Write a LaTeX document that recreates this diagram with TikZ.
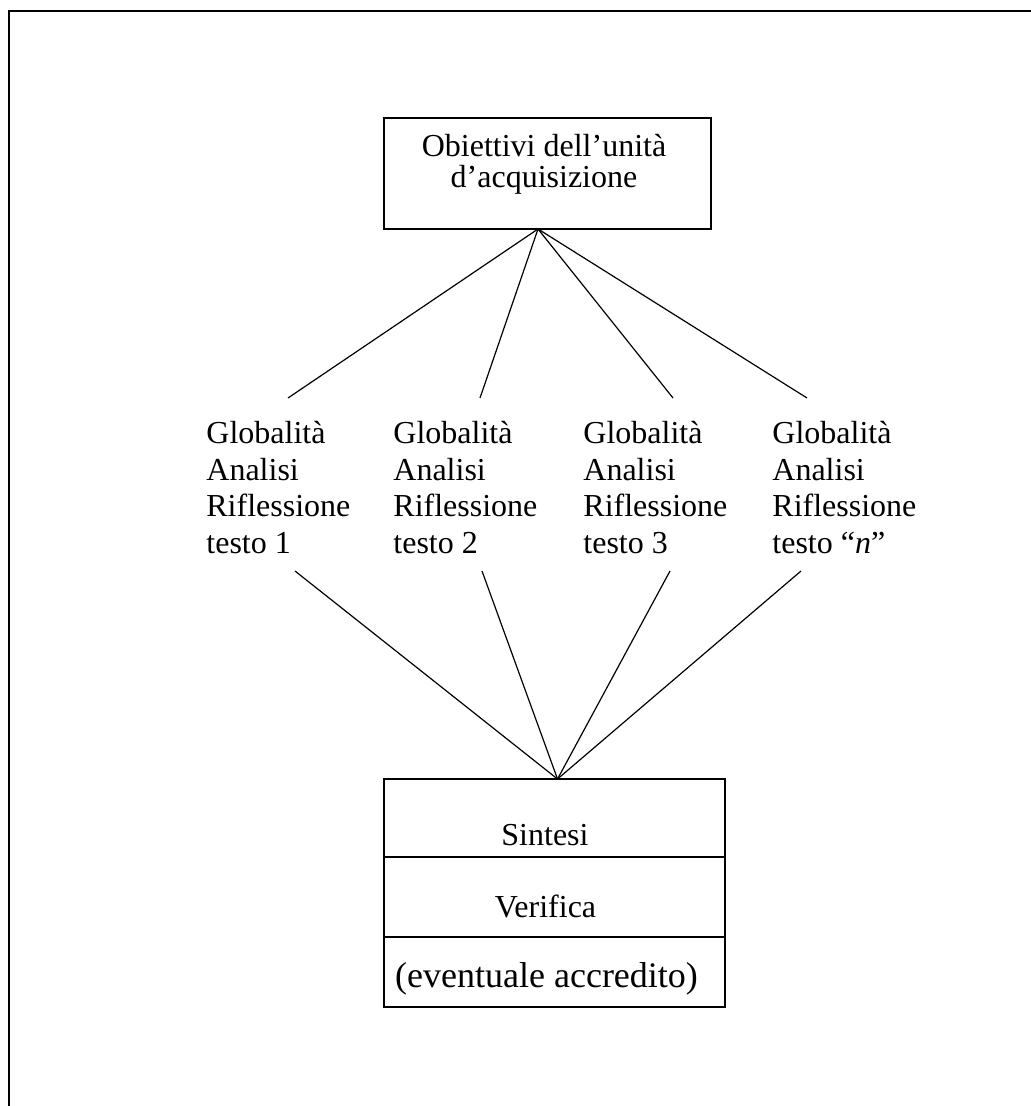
\documentclass[tikz,border=0pt]{standalone}
\usepackage{fontspec}
\setmainfont{Liberation Serif}
\usetikzlibrary{positioning}
\tikzset{
    every node/.style={font=\fontsize{16}{18.25}\selectfont}, % Times-like body text
    box/.style={draw, line width=0.65pt, inner sep=0pt, outer sep=0pt}, % frame of the top box and the bottom rows
    cell/.style={box, minimum width=170.5pt}, % one row of the bottom box
    column/.style={align=left, anchor=base west, inner sep=0pt}, % the four text columns (base = last line)
    link/.style={line width=0.6pt}, % the plain connecting lines
}

\begin{document}
\begin{tikzpicture}[x=0.5pt, y=-0.5pt]
    \useasboundingbox (0,0) rectangle (1031,1106);
    \draw[line width=1.1pt] (1031,11) -- (9,11) -- (9,1106);

    % top box
    \node[box, minimum width=163.5pt, minimum height=55.5pt] (obj) at (547.5,173.5) {};
    \node[align=center, anchor=base, inner sep=0pt, font=\fontsize{16}{15.5}\selectfont] (objtxt) at (544,188) {Obiettivi dell’unità\\d’acquisizione};

    % the four columns
    \node[column] (g1) at (206,553) {Globalità\\Analisi\\Riflessione\\testo 1};
    \node[column] (g2) at (393,553) {Globalità\\Analisi\\Riflessione\\testo 2};
    \node[column] (g3) at (583,553) {Globalità\\Analisi\\Riflessione\\testo 3};
    \node[column] (g4) at (772,553) {Globalità\\Analisi\\Riflessione\\testo ``\textit{n}''};

    % bottom box
    \node[cell, minimum height=39pt] (sin) at (554.5,818) {};
    \node[cell, minimum height=40pt, below=0pt of sin] (ver) {};
    \node[cell, minimum height=35pt, below=0pt of ver] (acc) {};
    \node[anchor=base, inner sep=0pt] (sintxt) at (545,845) {Sintesi};
    \node[anchor=base, inner sep=0pt] (vertxt) at (545.5,917) {Verifica};
    \node[anchor=base, inner sep=0pt, font=\fontsize{18}{20}\selectfont] (acctxt) at (546.5,987) {(eventuale accredito)};

    % line ends
    \coordinate (ap) at (538,229);
    \coordinate (t1) at (288,398);
    \coordinate (t2) at (480,398);
    \coordinate (t3) at (673,398);
    \coordinate (t4) at (807,398);
    \coordinate (b1) at (295,571);
    \coordinate (b2) at (482,571);
    \coordinate (b3) at (670,571);
    \coordinate (b4) at (801,571);
    \coordinate (bp) at (557.5,779);

    \foreach \t in {t1,t2,t3,t4}
        \draw[link] (ap) -- (\t);
    \foreach \b in {b1,b2,b3,b4}
        \draw[link] (\b) -- (bp);
\end{tikzpicture}
\end{document}
